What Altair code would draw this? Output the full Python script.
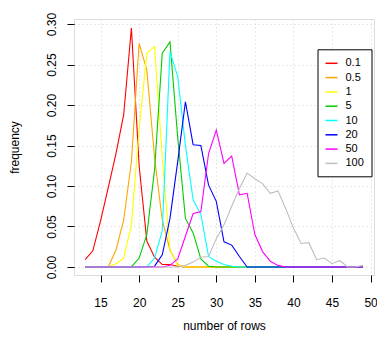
import altair as alt
import pandas as pd

# number of rows (x positions of every series)
rows = [13, 14, 15, 16, 17, 18, 19, 20, 21, 22, 23, 24, 25, 26, 27, 28, 29, 30, 31,
        32, 33, 34, 35, 36, 37, 38, 39, 40, 41, 42, 43, 44, 45, 46, 47, 48, 49]

series_names = ["0.1", "0.5", "1", "5", "10", "20", "50", "100"]
series_colors = ["#ff0000", "#ffa500", "#ffff00", "#00cd00", "#00ffff",
                 "#0000ff", "#ff00ff", "#bebebe"]

#            13     14     15     16     17     18     19     20     21     22     23     24     25
f_0_1 = [0.009, 0.020, 0.057, 0.098, 0.140, 0.188, 0.295, 0.125, 0.032, 0.012, 0.003, 0.003, 0.001,
         0, 0, 0, 0, 0, 0, 0, 0, 0, 0, 0, 0, 0, 0, 0, 0, 0, 0, 0, 0, 0, 0, 0, 0]
f_0_5 = [0, 0, 0, 0, 0.021, 0.058, 0.130, 0.276, 0.243, 0.135, 0.058, 0.021, 0.003,
         0, 0, 0, 0, 0, 0, 0, 0, 0, 0, 0, 0, 0, 0, 0, 0, 0, 0, 0, 0, 0, 0, 0, 0]
f_1 = [0, 0, 0, 0, 0.004, 0.011, 0.052, 0.170, 0.264, 0.272, 0.135, 0.022, 0.002,
       0, 0, 0, 0, 0, 0, 0, 0, 0, 0, 0, 0, 0, 0, 0, 0, 0, 0, 0, 0, 0, 0, 0, 0]
f_5 = [0, 0, 0, 0, 0, 0, 0, 0.011, 0.040, 0.120, 0.264, 0.278, 0.160,
       0.060, 0.042, 0.010, 0.001, 0, 0, 0, 0, 0, 0, 0, 0, 0, 0, 0, 0, 0, 0, 0, 0, 0, 0, 0, 0]
f_10 = [0, 0, 0, 0, 0, 0, 0, 0, 0, 0.011, 0.045, 0.266, 0.235,
        0.150, 0.083, 0.065, 0.013, 0.007, 0.003, 0.001, 0, 0, 0, 0, 0, 0, 0, 0, 0, 0, 0, 0, 0, 0, 0, 0, 0]
f_20 = [0, 0, 0, 0, 0, 0, 0, 0, 0, 0.001, 0.015, 0.060, 0.130,
        0.204, 0.151, 0.150, 0.101, 0.081, 0.031, 0.027, 0.013, 0, 0, 0, 0, 0, 0, 0, 0, 0, 0, 0, 0, 0, 0, 0, 0]
f_50 = [0, 0, 0, 0, 0, 0, 0, 0, 0, 0, 0, 0.002, 0.010,
        0.038, 0.066, 0.068, 0.140, 0.169, 0.128, 0.137, 0.089, 0.091, 0.040, 0.019, 0.007, 0.002,
        0, 0, 0, 0, 0, 0, 0, 0, 0, 0, 0]
f_100 = [0, 0, 0, 0, 0, 0, 0, 0, 0, 0, 0, 0, 0,
         0.002, 0.006, 0.012, 0.013, 0.035, 0.052, 0.075, 0.097, 0.116, 0.109, 0.103, 0.091, 0.094,
         0.072, 0.048, 0.029, 0.030, 0.009, 0.011, 0.004, 0.008, 0, 0, 0.002]

x_ticks = [15, 20, 25, 30, 35, 40, 45, 50]
y_ticks = [0.0, 0.05, 0.10, 0.15, 0.20, 0.25, 0.30]

all_series = [f_0_1, f_0_5, f_1, f_5, f_10, f_20, f_50, f_100]
records = []
for name, vals in zip(series_names, all_series):
    for r, v in zip(rows, vals):
        records.append({"rows": r, "freq": v, "series": name})
df = pd.DataFrame(records)

FONT = "Liberation Sans"
W = 300

chart = alt.Chart(df).mark_line(strokeWidth=1.1, clip=True).encode(
    x=alt.X("rows:Q",
            scale=alt.Scale(domain=[11.56, 50.44], nice=False, zero=False),
            axis=alt.Axis(values=x_ticks, title="number of rows", format="d",
                          tickSize=7, tickColor="black", domain=False,
                          labelFont=FONT, labelFontSize=12, labelColor="black",
                          labelBaseline="alphabetic", labelPadding=24,
                          grid=True, gridColor="#d3d3d3", gridDash=[1, 3],
                          titleFont=FONT, titleFontSize=12, titleFontWeight="normal",
                          titleColor="black", titleX=W / 2, titleY=54,
                          titleBaseline="alphabetic", titleAlign="center")),
    y=alt.Y("freq:Q",
            scale=alt.Scale(domain=[-0.0099, 0.3062], nice=False, zero=False),
            axis=alt.Axis(values=y_ticks, title="frequency", format=".2f",
                          tickSize=7, tickColor="black", domain=False,
                          labelFont=FONT, labelFontSize=12, labelColor="black",
                          labelAngle=270, labelAlign="center", labelBaseline="alphabetic",
                          labelPadding=12,
                          grid=True, gridColor="#d3d3d3", gridDash=[1, 3],
                          titleFont=FONT, titleFontSize=12, titleFontWeight="normal",
                          titleColor="black", titleAngle=270, titleX=-56, titleY=128,
                          titleBaseline="alphabetic", titleAlign="center")),
    color=alt.Color("series:N",
                    scale=alt.Scale(domain=series_names, range=series_colors),
                    sort=series_names,
                    legend=alt.Legend(title=None, orient="none", legendX=243.5, legendY=30.3,
                                      direction="vertical", symbolType="stroke",
                                      symbolSize=144, symbolStrokeWidth=1.5,
                                      labelFont=FONT, labelFontSize=11, labelColor="black",
                                      labelOffset=7, rowPadding=2.3, padding=7,
                                      strokeColor="black", fillColor="white")),
).properties(
    width=W, height=256,
    autosize=alt.AutoSizeParams(type="none"),
    padding={"left": 66, "top": 11, "right": 3, "bottom": 58},
).configure_view(
    stroke="black", strokeWidth=1
).configure(background="white")

chart.save("out.html", embed_options={"renderer": "svg", "actions": False})
